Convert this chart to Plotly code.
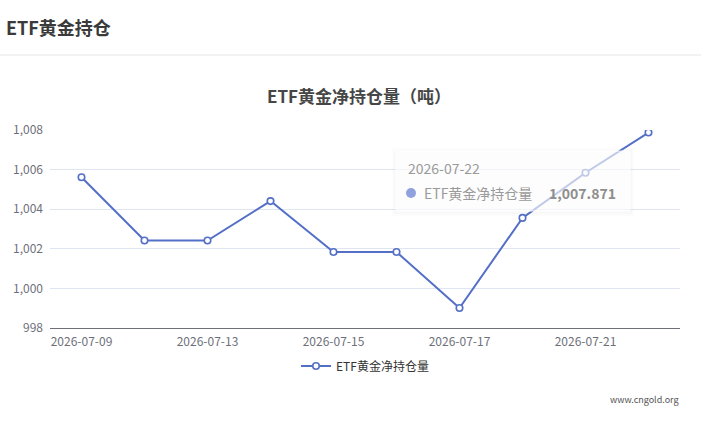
import plotly.graph_objects as go

dates = ["2026-07-09", "2026-07-10", "2026-07-13", "2026-07-14", "2026-07-15",
         "2026-07-16", "2026-07-17", "2026-07-20", "2026-07-21", "2026-07-22"]
holdings = [1005.61, 1002.42, 1002.42, 1004.41, 1001.84,
            1001.84, 999.01, 1003.56, 1005.84, 1007.871]
shown_dates = ["2026-07-09", "2026-07-13", "2026-07-15", "2026-07-17", "2026-07-21"]
y_ticks = [998, 1000, 1002, 1004, 1006, 1008]

series_name = "ETF黄金净持仓量"
page_title = "ETF黄金持仓"
chart_title = "ETF黄金净持仓量（吨）"
tip_date = dates[-1]
tip_value = holdings[-1]

FONT = "Noto Sans CJK SC, Noto Sans, sans-serif"
BLUE = "#5470C6"
AXIS_GRAY = "#6E7079"

fig = go.Figure()
fig.add_trace(go.Scatter(
    x=dates, y=holdings, name=series_name, mode="lines+markers",
    line=dict(color=BLUE, width=2),
    marker=dict(symbol="circle", size=6.5, color="white", line=dict(color=BLUE, width=1.6)),
    hoverinfo="skip",
))

W, H = 701, 426
ml, mr, mt, mb = 50, 21, 130, 98
ph = H - mt - mb

def py(pix):
    return (H - mb - pix) / ph

def px(pix):
    return (pix - ml) / (W - ml - mr)

shapes = [
    # header separator line
    dict(type="line", xref="paper", yref="paper", x0=px(0), x1=px(W), y0=py(55), y1=py(55),
         line=dict(color="#E6E6E6", width=1), layer="above"),
    # tooltip soft shadow
    dict(type="rect", xref="paper", yref="paper", x0=px(392), x1=px(634), y0=py(216), y1=py(148),
         fillcolor="rgba(0,0,0,0.012)", line=dict(width=0), layer="above"),
    dict(type="rect", xref="paper", yref="paper", x0=px(394), x1=px(632), y0=py(214), y1=py(150),
         fillcolor="rgba(0,0,0,0.015)", line=dict(width=0), layer="above"),
    # tooltip box
    dict(type="rect", xref="paper", yref="paper", x0=px(396), x1=px(630), y0=py(211), y1=py(151),
         fillcolor="rgba(255,255,255,0.64)", line=dict(color="rgba(255,255,255,0.8)", width=1), layer="above"),
    # tooltip dot
    dict(type="circle", xref="paper", yref="paper", x0=px(406), x1=px(416), y0=py(198), y1=py(188),
         fillcolor="#8FA2DE", line=dict(width=0), layer="above"),
]

annotations = [
    dict(text=f"<b>{page_title}</b>", xref="paper", yref="paper", x=px(4), y=py(27),
         xanchor="left", yanchor="middle", showarrow=False,
         font=dict(family=FONT, size=18, color="#3A3A3A")),
    dict(text=f"<b>{chart_title}</b>", xref="paper", yref="paper", x=px(359), y=py(95),
         xanchor="center", yanchor="middle", showarrow=False,
         font=dict(family=FONT, size=17, color="#464646")),
    dict(text="www.cngold.org", xref="paper", yref="paper", x=px(681), y=py(399),
         xanchor="right", yanchor="middle", showarrow=False,
         font=dict(family=FONT, size=9, color="#555555")),
    dict(text=tip_date, xref="paper", yref="paper", x=px(406), y=py(168),
         xanchor="left", yanchor="middle", showarrow=False,
         font=dict(family=FONT, size=14, color="#9A9A9A")),
    dict(text=series_name, xref="paper", yref="paper", x=px(422), y=py(193),
         xanchor="left", yanchor="middle", showarrow=False,
         font=dict(family=FONT, size=14, color="#9A9A9A")),
    dict(text=f"<b>{tip_value:,.3f}</b>", xref="paper", yref="paper", x=px(618), y=py(193),
         xanchor="right", yanchor="middle", showarrow=False,
         font=dict(family=FONT, size=14, color="#8E8E8E")),
]

fig.update_layout(
    width=W, height=H,
    margin=dict(l=ml, r=mr, t=mt, b=mb),
    paper_bgcolor="white", plot_bgcolor="white",
    font=dict(family=FONT, size=12, color=AXIS_GRAY),
    showlegend=True,
    legend=dict(orientation="h", x=0.5, xanchor="center", y=py(366), yanchor="middle",
                font=dict(family=FONT, size=12, color="#333333"), bgcolor="rgba(0,0,0,0)"),
    shapes=shapes, annotations=annotations,
    hovermode=False,
)
fig.update_xaxes(
    type="category", range=[-0.5, len(dates) - 0.5],
    tickmode="array", tickvals=shown_dates, ticktext=shown_dates,
    showgrid=False, showline=True, linecolor=AXIS_GRAY, linewidth=1,
    ticks="", ticklabelstandoff=3,
    tickfont=dict(family=FONT, size=12, color=AXIS_GRAY), zeroline=False,
)
fig.update_yaxes(
    range=[y_ticks[0], y_ticks[-1]], tickmode="array", tickvals=y_ticks,
    ticktext=[f"{v:,}" for v in y_ticks],
    showgrid=True, gridcolor="#E0E6F1", gridwidth=1, showline=False, zeroline=False,
    ticks="", ticklabelstandoff=6,
    tickfont=dict(family=FONT, size=12, color=AXIS_GRAY),
)

fig.write_html("out.html")
